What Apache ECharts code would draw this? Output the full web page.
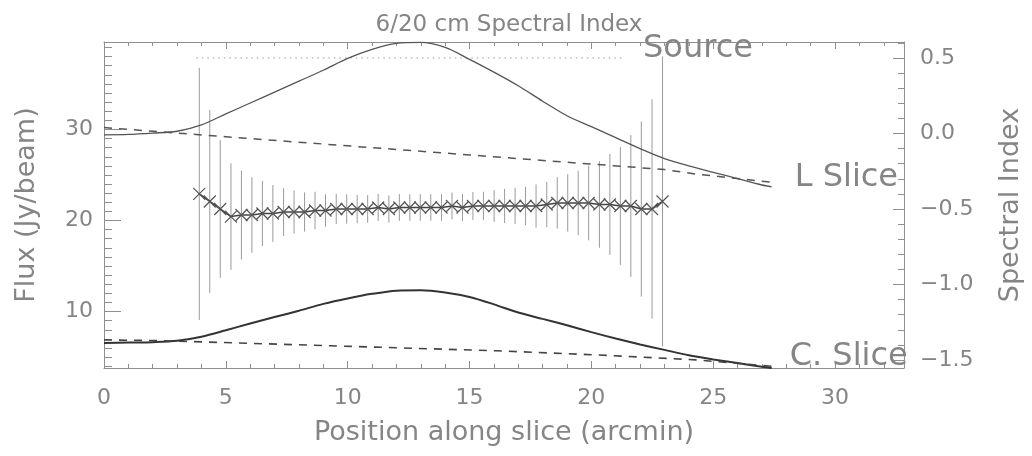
<!DOCTYPE html>
<html>
<head>
<meta charset="utf-8">
<script src="https://cdn.jsdelivr.net/npm/echarts@6/dist/echarts.min.js"></script>
<style>html,body{margin:0;padding:0;background:#fff;}#c{width:1032px;height:456px;}</style>
</head>
<body>
<div id="c"></div>
<script>
// ---- data ----
const specX = [3.91, 4.34, 4.77, 5.21, 5.64, 6.07, 6.50, 6.93, 7.37, 7.80, 8.23, 8.66, 9.09, 9.53, 9.96,
  10.39, 10.82, 11.25, 11.69, 12.12, 12.55, 12.98, 13.41, 13.85, 14.28, 14.71, 15.14, 15.57, 16.01, 16.44,
  16.87, 17.30, 17.73, 18.17, 18.60, 19.03, 19.46, 19.89, 20.33, 20.76, 21.19, 21.62, 22.05, 22.49, 22.92];
const specIndex = [-0.40, -0.45, -0.50, -0.55, -0.54, -0.54, -0.53, -0.53, -0.52, -0.52, -0.52, -0.51, -0.51, -0.50, -0.50,
  -0.50, -0.50, -0.49, -0.50, -0.49, -0.49, -0.49, -0.49, -0.49, -0.48, -0.49, -0.48, -0.48, -0.48, -0.48,
  -0.48, -0.48, -0.48, -0.47, -0.46, -0.46, -0.46, -0.46, -0.47, -0.47, -0.48, -0.48, -0.50, -0.50, -0.45];
const specErr = [0.835, 0.606, 0.456, 0.353, 0.295, 0.25, 0.215, 0.188, 0.158, 0.143, 0.13, 0.124, 0.108, 0.10, 0.097,
  0.094, 0.092, 0.09, 0.09, 0.089, 0.088, 0.088, 0.088, 0.088, 0.089, 0.09, 0.092, 0.094, 0.105, 0.113,
  0.12, 0.127, 0.143, 0.15, 0.17, 0.19, 0.213, 0.248, 0.287, 0.334, 0.39, 0.47, 0.58, 0.726, 0.96];

const sliceX = [0, 1, 2, 3, 4, 5, 6, 7, 8, 9, 10, 11, 12, 13, 14, 15, 16, 17, 18, 19, 20, 21, 22, 23, 24, 25, 26, 27, 27.4];
const lSlice = [29.4, 29.45, 29.6, 29.8, 30.5, 31.7, 32.9, 34.1, 35.3, 36.5, 37.8, 38.8, 39.45, 39.55, 39.0, 37.7, 36.3,
  34.8, 33.1, 31.5, 30.3, 29.1, 27.9, 26.8, 26.0, 25.3, 24.6, 23.9, 23.7];
const cSlice = [6.55, 6.6, 6.65, 6.8, 7.25, 7.95, 8.7, 9.4, 10.1, 10.85, 11.45, 11.95, 12.3, 12.35, 12.1, 11.6, 10.8,
  9.9, 9.2, 8.5, 7.75, 7.05, 6.4, 5.8, 5.2, 4.75, 4.35, 3.95, 3.8];

const lBaseX = [0, 5, 10, 15, 20, 23, 24.3, 27.4];
const lBase = [30.2, 29.2, 28.2, 27.2, 26.2, 25.6, 25.1, 24.2];
const cBaseX = [0, 2.5, 9.3, 16.1, 20.2, 24.3, 27.4];
const cBase = [6.9, 6.8, 6.25, 5.7, 5.25, 4.7, 4.0];

const sourceX = [3.79, 21.3];
const sourceLevel = [37.85, 37.85];

const xMajor = [0, 5, 10, 15, 20, 25, 30];
const xMinor = [1,2,3,4,6,7,8,9,11,12,13,14,16,17,18,19,21,22,23,24,26,27,28,29,31,32];
const fluxMajor = [10, 20, 30];
const fluxMinor = [4,5,6,7,8,9,11,12,13,14,15,16,17,18,19,21,22,23,24,25,26,27,28,29,31,32,33,34,35,36,37,38,39];
const specMajor = [-1.5, -1.0, -0.5, 0.0, 0.5];
const specMinor = [-1.4,-1.3,-1.2,-1.1,-0.9,-0.8,-0.7,-0.6,-0.4,-0.3,-0.2,-0.1,0.1,0.2,0.3,0.4,0.6];

const X_MIN = 0, X_MAX = 32.83;
const F_MIN = 3.81, F_MAX = 39.6;
const S_MIN = -1.553, S_MAX = 0.606;

// ---- chart ----
const FONT = 'DejaVu Sans';
const TXT = '#858585';
const AX = '#8f8f8f';
const chart = echarts.init(document.getElementById('c'), null, {renderer: 'canvas'});

function xAx(pos, ticks, len, labels, line, extra) {
  return Object.assign({
    type: 'value', gridIndex: 0, position: pos, min: X_MIN, max: X_MAX,
    axisLine: {show: line, onZero: false, lineStyle: {color: AX, width: 1}},
    axisTick: {show: true, inside: true, length: len, customValues: ticks, lineStyle: {color: AX, width: 1}},
    axisLabel: labels ? {show: true, customValues: ticks, fontFamily: FONT, fontSize: 22, color: TXT, margin: 19} : {show: false},
    splitLine: {show: false}
  }, extra || {});
}
function yAx(pos, min, max, ticks, len, labels, line, extra) {
  return Object.assign({
    type: 'value', gridIndex: 0, position: pos, min: min, max: max,
    axisLine: {show: line, onZero: false, lineStyle: {color: AX, width: 1}},
    axisTick: {show: true, inside: true, length: len, customValues: ticks, lineStyle: {color: AX, width: 1}},
    axisLabel: labels ? Object.assign({show: true, customValues: ticks, fontFamily: FONT, fontSize: 22, color: TXT}, labels) : {show: false},
    splitLine: {show: false}
  }, extra || {});
}

const xMarker = 'path://M0,0L10,10M10,0L0,10';

const option = {
  animation: false,
  backgroundColor: '#fff',
  title: {
    text: '6/20 cm Spectral Index', left: 504, top: 9, textAlign: 'center',
    textStyle: {fontFamily: FONT, fontSize: 23, fontWeight: 'normal', color: TXT}
  },
  grid: {left: 104, right: 122, top: 42, bottom: 88, containLabel: false},
  xAxis: [
    xAx('bottom', xMajor, 7, true, true, {
      name: 'Position along slice (arcmin)', nameLocation: 'middle', nameGap: 51,
      nameTextStyle: {fontFamily: FONT, fontSize: 27, color: TXT}
    }),
    xAx('bottom', xMinor, 4, false, false),
    xAx('top', xMajor, 7, false, true),
    xAx('top', xMinor, 4, false, false)
  ],
  yAxis: [
    yAx('left', F_MIN, F_MAX, fluxMajor, 17, {margin: 11}, true, {
      name: 'Flux (Jy/beam)', nameLocation: 'middle', nameGap: 64,
      nameTextStyle: {fontFamily: FONT, fontSize: 27, color: TXT}
    }),
    yAx('left', F_MIN, F_MAX, fluxMinor, 8, null, false),
    yAx('right', S_MIN, S_MAX, specMajor, 11, {
      margin: 16,
      formatter: v => (v < -1e-9 ? '\u2212' : '') + Math.abs(v).toFixed(1)
    }, true, {
      name: 'Spectral Index', nameLocation: 'middle', nameGap: 93, nameRotate: 90,
      nameTextStyle: {fontFamily: FONT, fontSize: 27, color: TXT}
    }),
    yAx('right', S_MIN, S_MAX, specMinor, 6, null, false)
  ],
  series: [
    {
      name: 'err', type: 'custom', xAxisIndex: 0, yAxisIndex: 2, z: 1,
      data: specX.map((x, i) => [x, specIndex[i], specErr[i]]),
      encode: {x: 0, y: 1},
      renderItem: function (params, api) {
        const x = api.value(0), y = api.value(1), e = api.value(2);
        const p1 = api.coord([x, y + e]);
        const p2 = api.coord([x, y - e]);
        return {type: 'line', shape: {x1: p1[0], y1: p1[1], x2: p2[0], y2: p2[1]},
          style: {stroke: '#9a9a9a', lineWidth: 1}};
      }
    },
    {
      name: 'Source', type: 'line', xAxisIndex: 0, yAxisIndex: 0,
      data: sourceX.map((x, i) => [x, sourceLevel[i]]),
      showSymbol: false, symbol: 'none',
      lineStyle: {color: '#9a9a9a', width: 1, type: [1.5, 4]},
      endLabel: {show: true, formatter: 'Source', distance: 20, offset: [0, -9],
        fontFamily: FONT, fontSize: 32, color: TXT}
    },
    {
      name: 'L solid', type: 'line', xAxisIndex: 0, yAxisIndex: 0, smooth: 0.3,
      data: sliceX.map((x, i) => [x, lSlice[i]]), showSymbol: false, symbol: 'none',
      lineStyle: {color: '#555', width: 1.3}
    },
    {
      name: 'L Slice', type: 'line', xAxisIndex: 0, yAxisIndex: 0,
      data: lBaseX.map((x, i) => [x, lBase[i]]), showSymbol: false, symbol: 'none',
      lineStyle: {color: '#555', width: 1.5, type: [8, 7]},
      endLabel: {show: true, formatter: 'L Slice', distance: 23, offset: [0, -5],
        fontFamily: FONT, fontSize: 32, color: TXT}
    },
    {
      name: 'C solid', type: 'line', xAxisIndex: 0, yAxisIndex: 0, smooth: 0.3,
      data: sliceX.map((x, i) => [x, cSlice[i]]), showSymbol: false, symbol: 'none',
      lineStyle: {color: '#333', width: 2}
    },
    {
      name: 'C. Slice', type: 'line', xAxisIndex: 0, yAxisIndex: 0,
      data: cBaseX.map((x, i) => [x, cBase[i]]), showSymbol: false, symbol: 'none',
      lineStyle: {color: '#444', width: 1.6, type: [8, 7]},
      endLabel: {show: true, formatter: 'C. Slice', distance: 18, offset: [0, -10],
        fontFamily: FONT, fontSize: 32, color: TXT}
    },
    {
      name: 'Spectral', type: 'line', xAxisIndex: 0, yAxisIndex: 2, z: 3,
      data: specX.map((x, i) => [x, specIndex[i]]),
      symbol: xMarker, symbolSize: 12, showAllSymbol: true,
      itemStyle: {color: 'rgba(0,0,0,0)', borderColor: '#555', borderWidth: 1.2},
      lineStyle: {color: '#444', width: 1.6}
    }
  ]
};
chart.setOption(option);
</script>
</body>
</html>
